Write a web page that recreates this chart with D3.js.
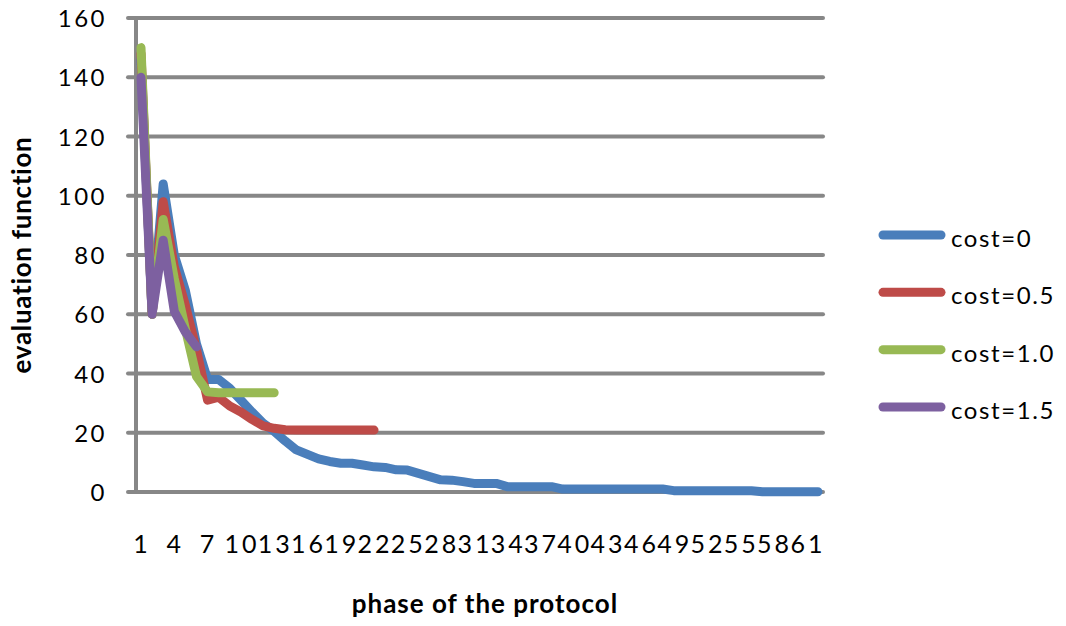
<!DOCTYPE html>
<html>
<head>
<meta charset="utf-8">
<script src="https://cdn.jsdelivr.net/npm/d3@7"></script>
<style>
  html, body { margin: 0; padding: 0; background: #ffffff; }
  svg { display: block; }
  text { font-family: Lato, "Open Sans", sans-serif; fill: #000; }
</style>
</head>
<body>
<svg id="chart" width="1066" height="626"></svg>
<script>
// Phases of the protocol (category axis)
const phases = [1,2,3,4,5,6,7,8,9,10,11,12,13,14,15,16,17,18,19,20,21,22,23,24,25,26,27,28,29,30,
  31,32,33,34,35,36,37,38,39,40,41,42,43,44,45,46,47,48,49,50,51,52,53,54,55,56,57,58,59,60,61,62];

// Evaluation function per phase, one array per cost level
const cost0 = [146, 60, 104, 80, 68, 50, 38, 38, 35, 31, 27, 23.2, 20.5, 17.2, 14.2, 12.7, 11.2, 10.3, 9.7, 9.7,
  9.1, 8.5, 8.3, 7.5, 7.4, 6.3, 5.2, 4.1, 4, 3.5, 2.9, 2.9, 2.9, 1.8, 1.8, 1.8, 1.8, 1.8, 1, 1,
  1, 1, 1, 1, 1, 1, 1, 1, 0.45, 0.45, 0.45, 0.45, 0.45, 0.45, 0.45, 0.45, 0.1, 0.1, 0.1, 0.1, 0.1, 0.1];
const cost05 = [148, 60, 98, 76, 63, 48, 31, 32, 29, 27, 24.5, 22.3, 21.5, 21, 20.9, 20.9, 20.9, 20.9, 20.9, 20.9, 20.9, 20.9];
const cost10 = [150, 60, 92, 72, 55, 39, 33.8, 33.5, 33.5, 33.5, 33.5, 33.5, 33.5];
const cost15 = [140, 60, 85, 61, 54, 49];

const seriesNames = ["cost=0", "cost=0.5", "cost=1.0", "cost=1.5"];
const seriesValues = [cost0, cost05, cost10, cost15];
const seriesColors = ["#4a7ebb", "#be4b48", "#98b954", "#7d60a0"];

const yTickValues = [0, 20, 40, 60, 80, 100, 120, 140, 160];
const xTickLabels = [1, 4, 7, 10, 13, 16, 19, 22, 25, 28, 31, 34, 37, 40, 43, 46, 49, 52, 55, 58, 61];

const svg = d3.select("#chart");

const x = d3.scalePoint().domain(phases).range([141, 818]);
const y = d3.scaleLinear().domain([0, 160]).range([492, 18]);

const gridColor = "#878787";

// Horizontal gridlines with tick stubs left of the axis
svg.append("g")
  .selectAll("line")
  .data(yTickValues)
  .join("line")
  .attr("x1", 128).attr("x2", 823)
  .attr("y1", d => y(d)).attr("y2", d => y(d))
  .attr("stroke", gridColor)
  .attr("stroke-width", 4)
  .attr("stroke-linecap", "round");

// Vertical value axis line
svg.append("line")
  .attr("x1", 136).attr("x2", 136)
  .attr("y1", y(160)).attr("y2", y(0))
  .attr("stroke", gridColor)
  .attr("stroke-width", 4);

// Y tick labels
svg.append("g")
  .selectAll("text")
  .data(yTickValues)
  .join("text")
  .attr("x", 107)
  .attr("y", d => y(d) + 9)
  .attr("text-anchor", "end")
  .attr("font-size", 24)
  .attr("letter-spacing", 2.5)
  .text(d => d);

// X tick labels (every third phase)
svg.append("g")
  .selectAll("text")
  .data(xTickLabels)
  .join("text")
  .attr("x", d => x(d) + 1)
  .attr("y", 553)
  .attr("text-anchor", "middle")
  .attr("font-size", 25)
  .attr("letter-spacing", 3)
  .text(d => d);

// Series lines
const line = d3.line()
  .x((d, i) => x(phases[i]))
  .y(d => y(d));

svg.append("g")
  .selectAll("path")
  .data(seriesValues)
  .join("path")
  .attr("d", d => line(d))
  .attr("fill", "none")
  .attr("stroke", (d, i) => seriesColors[i])
  .attr("stroke-width", 9)
  .attr("stroke-linejoin", "round")
  .attr("stroke-linecap", "round");

// Axis titles
svg.append("text")
  .attr("transform", "translate(31,255) rotate(-90)")
  .attr("text-anchor", "middle")
  .attr("font-size", 26)
  .attr("font-weight", "bold")
  .attr("letter-spacing", 0.7)
  .text("evaluation function");

svg.append("text")
  .attr("x", 485)
  .attr("y", 613)
  .attr("text-anchor", "middle")
  .attr("font-size", 26)
  .attr("font-weight", "bold")
  .attr("letter-spacing", 1)
  .text("phase of the protocol");

// Legend
const legendY = d3.scalePoint().domain(seriesNames).range([235, 407]);
const legend = svg.append("g")
  .selectAll("g")
  .data(seriesNames)
  .join("g")
  .attr("transform", d => `translate(0,${legendY(d)})`);

legend.append("line")
  .attr("x1", 883).attr("x2", 941)
  .attr("y1", 0).attr("y2", 0)
  .attr("stroke", (d, i) => seriesColors[i])
  .attr("stroke-width", 9)
  .attr("stroke-linecap", "round");

legend.append("text")
  .attr("x", 951)
  .attr("y", 12)
  .attr("font-size", 24)
  .attr("letter-spacing", 1.6)
  .text(d => d);
</script>
</body>
</html>
